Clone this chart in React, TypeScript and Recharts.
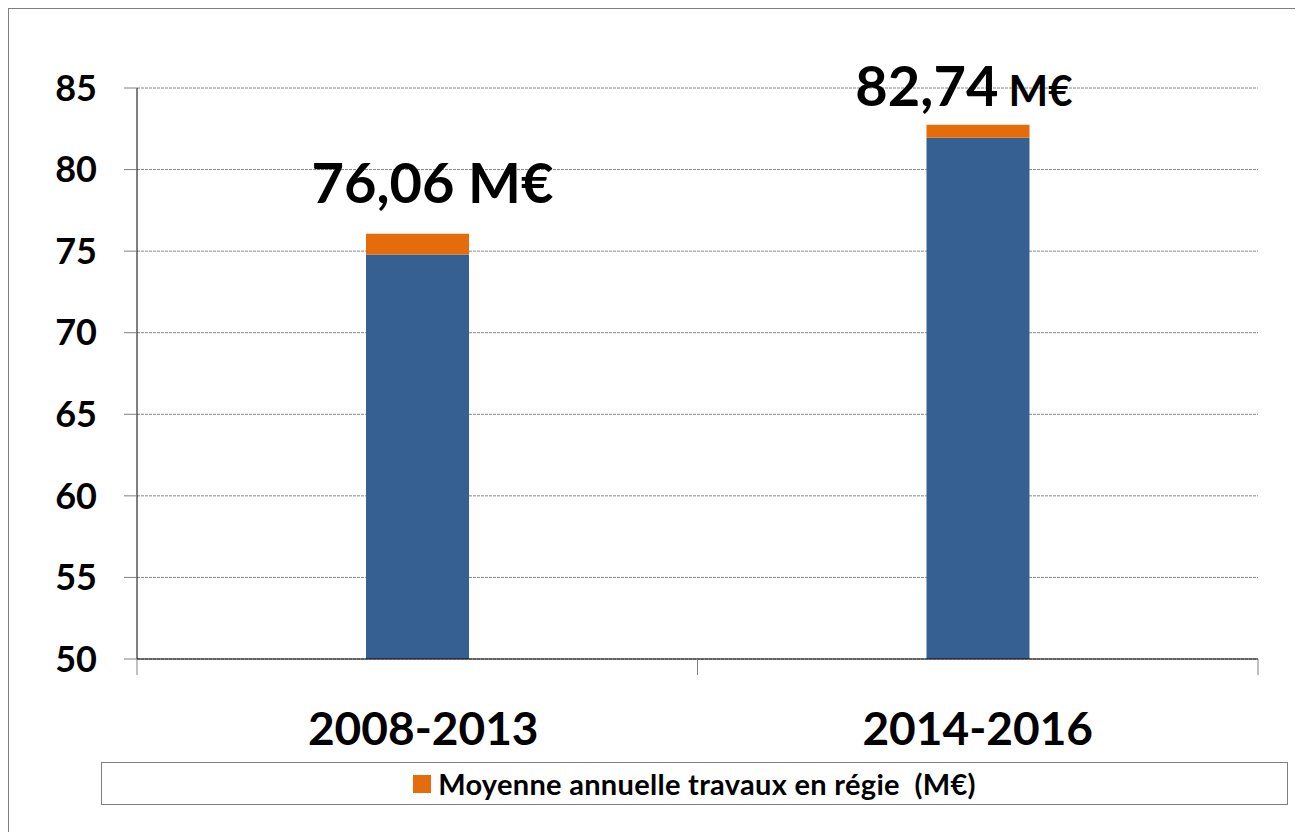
import React from 'react';
import { BarChart, Bar, XAxis, YAxis, CartesianGrid, Legend, LabelList } from 'recharts';

const periods = ['2008-2013', '2014-2016'];
const baseValues = [74.8, 81.95];
const regieValues = [1.26, 0.79];
const yTicks = [50, 55, 60, 65, 70, 75, 80, 85];

const data = periods.map((period, i) => ({
  period,
  base: baseValues[i],
  regie: regieValues[i],
}));

const BLUE = '#376092';
const ORANGE = '#E46C0A';
const FONT = 'Lato, "Open Sans", sans-serif';

const W = 1294;
const H = 823;
const margin = { top: 79, right: 45, bottom: 73, left: 0 };
const Y_AXIS_W = 128;
const X_AXIS_H = 100;
const band = (W - margin.left - margin.right - Y_AXIS_W) / periods.length;

// hand-placed labels in the original, small nudges relative to each bar
const labelNudge = [
  { dx: 15, dy: -31, unit: 56 },
  { dx: -14, dy: -19, unit: 42 },
];

const XTick = (props: any) => {
  const { x, y, payload, index } = props;
  return (
    <g>
      <line x1={x - band / 2} x2={x - band / 2} y1={y} y2={y + 16} stroke="#808080" />
      {index === periods.length - 1 && (
        <line x1={x + band / 2} x2={x + band / 2} y1={y} y2={y + 16} stroke="#808080" />
      )}
      <text x={x + (index === 0 ? 6 : 0)} y={y + 86} textAnchor="middle" fontFamily={FONT} fontWeight="bold" fontSize={46} fill="#000">
        {payload.value}
      </text>
    </g>
  );
};

const TotalLabel = (props: any) => {
  const { x, y, width, index } = props;
  const total = baseValues[index] + regieValues[index];
  const n = labelNudge[index] || { dx: 0, dy: -25, unit: 56 };
  return (
    <text x={x + width / 2 + n.dx} y={y + n.dy} textAnchor="middle" fontFamily={FONT} fontWeight="bold" fill="#000">
      <tspan fontSize={56}>{total.toFixed(2).replace('.', ',')}</tspan>
      <tspan fontSize={n.unit}>{' M€'}</tspan>
    </text>
  );
};

const LegendBox = () => (
  <div
    style={{
      width: '100%',
      height: '100%',
      boxSizing: 'border-box',
      border: '1px solid #7f7f7f',
      display: 'flex',
      alignItems: 'center',
      justifyContent: 'center',
      fontFamily: FONT,
      fontWeight: 'bold',
      fontSize: 29,
      letterSpacing: 0.3,
      color: '#000',
      whiteSpace: 'pre',
    }}
  >
    <span style={{ display: 'inline-block', width: 18, height: 18, background: ORANGE, marginRight: 7 }} />
    <span>Moyenne annuelle travaux en régie  (M€)</span>
  </div>
);

export default function App() {
  return (
    <div style={{ width: 1300, height: 830, borderLeft: '1px solid #7f7f7f', borderTop: '1px solid #7f7f7f', background: '#fff' }}>
      <BarChart width={W} height={H} data={data} margin={margin} barSize={103}>
        <CartesianGrid vertical={false} stroke="#868686" strokeDasharray="3 1" />
        <XAxis
          dataKey="period"
          height={X_AXIS_H}
          axisLine={{ stroke: '#000' }}
          tickLine={false}
          tickSize={0}
          tickMargin={0}
          tick={<XTick />}
          interval={0}
        />
        <YAxis
          width={Y_AXIS_W}
          domain={[50, 85]}
          ticks={yTicks}
          allowDataOverflow
          axisLine={{ stroke: '#000' }}
          tickLine={{ stroke: '#808080' }}
          tickSize={13}
          tickMargin={27}
          tick={{ fill: '#000', fontSize: 36, fontWeight: 'bold', fontFamily: FONT }}
        />
        <Legend
          layout="horizontal"
          align="center"
          verticalAlign="middle"
          content={<LegendBox />}
          wrapperStyle={{ left: 92, top: 753, width: 1187, height: 43 }}
        />
        <Bar dataKey="base" stackId="a" fill={BLUE} legendType="none" isAnimationActive={false} />
        <Bar dataKey="regie" stackId="a" fill={ORANGE} name="Moyenne annuelle travaux en régie  (M€)" isAnimationActive={false}>
          <LabelList dataKey="regie" content={<TotalLabel />} />
        </Bar>
      </BarChart>
    </div>
  );
}
